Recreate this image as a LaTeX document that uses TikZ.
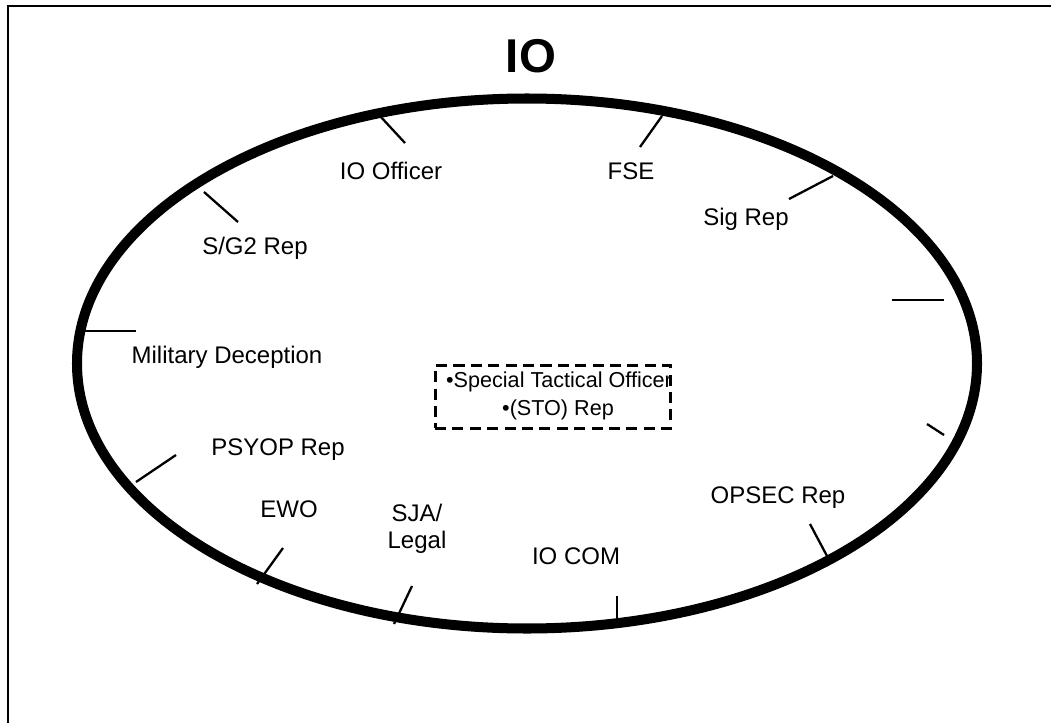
\documentclass[tikz,border=0pt]{standalone}
\usepackage{fontspec}
\setmainfont{Liberation Sans}
\begin{document}
\begin{tikzpicture}[x=0.02cm,y=-0.02cm,
  lbl/.style={anchor=base,inner sep=0pt,font=\fontsize{13.66}{15.3}\selectfont,align=center},
  stotext/.style={anchor=base,inner sep=0pt,font=\fontsize{12.3}{14}\selectfont},
  title/.style={anchor=base,inner sep=0pt,font=\fontsize{27}{30}\selectfont\bfseries},
  tick/.style={line width=1.3pt},
  rim/.style={line width=5.7pt},
  frameline/.style={line width=1.1pt},
  stobox/.style={draw,line width=1.7pt,dash pattern=on 6.3pt off 3.6pt,minimum width=134.3pt,minimum height=35.3pt,inner sep=0pt}]
\useasboundingbox (0,0) rectangle (1051,723);
% frame
\draw[frameline] (8,723) -- (8,6) -- (1051,6);
% ellipse
\draw[rim] (527,363.5) ellipse [x radius=450, y radius=265];
% title
\node[title] (io) at (531,72) {IO};
% ticks
\coordinate (t1a) at (380,116); \coordinate (t1b) at (405,143);
\coordinate (t2a) at (662,116); \coordinate (t2b) at (640,147);
\coordinate (t3a) at (833,176); \coordinate (t3b) at (789,199);
\coordinate (t4a) at (204,192); \coordinate (t4b) at (238,222);
\coordinate (t5a) at (85,331);  \coordinate (t5b) at (136,331);
\coordinate (t6a) at (136,482); \coordinate (t6b) at (176,455);
\coordinate (t7a) at (257,584); \coordinate (t7b) at (283,548);
\coordinate (t8a) at (394,624); \coordinate (t8b) at (412,586);
\coordinate (t9a) at (617,622); \coordinate (t9b) at (617,596);
\coordinate (t10a) at (827,556); \coordinate (t10b) at (810,524);
\coordinate (t11a) at (944,300); \coordinate (t11b) at (892,300);
\coordinate (t12a) at (944,435); \coordinate (t12b) at (927,424);
\foreach \i in {1,...,12} {\draw[tick] (t\i a) -- (t\i b);}
% labels
\node[lbl] (ioofficer) at (391,179) {IO Officer};
\node[lbl] (fse) at (631,179) {FSE};
\node[lbl] (sig) at (746,225) {Sig Rep};
\node[lbl] (sg2) at (255,254) {S/G2 Rep};
\node[lbl] (mildec) at (227,363) {Military Deception};
\node[lbl] (psyop) at (278,455) {PSYOP Rep};
\node[lbl] (ewo) at (289,517) {EWO};
\node[lbl] (sja) at (417,548) {SJA/\\Legal};
\node[lbl] (iocom) at (576,564) {IO COM};
\node[lbl] (opsec) at (778,503) {OPSEC Rep};
% STO box
\node[stobox] (sto) at (553,397) {};
\node[stotext] (sto1) at (559,387) {•Special Tactical Officer};
\node[stotext] (sto2) at (558,415.5) {•(STO) Rep};
\end{tikzpicture}
\end{document}
